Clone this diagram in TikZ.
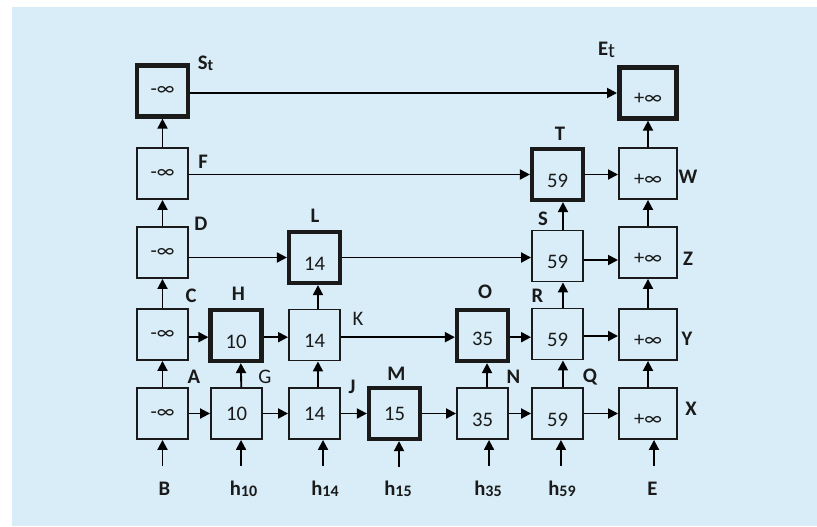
\documentclass[tikz,border=0pt]{standalone}
\usepackage{fontspec}
\setmainfont{Carlito}
\usetikzlibrary{arrows.meta}
\definecolor{bgblue}{HTML}{D8EDF8}
\definecolor{ink}{HTML}{1A1A1A}
\newcommand\boxfont{\fontsize{15.5}{18}\selectfont}
\newcommand\subfont{\fontsize{12}{14}\selectfont}
\newcommand\lowsub[1]{\raisebox{-1.2pt}{\subfont #1}}

\begin{document}
\begin{tikzpicture}[x=0.75pt,y=-0.75pt,
  box/.style={draw=ink, line width=1.4pt, minimum width=38.25pt,
    minimum height=38.25pt, inner sep=0pt, font=\boxfont, text=ink},
  wide/.style={minimum width=43.6pt},
  heavy/.style={line width=3.4pt, minimum width=38pt, minimum height=38pt},
  heavywide/.style={line width=3.4pt, minimum width=43.1pt, minimum height=38pt},
  low/.style={label={[font=\boxfont, text=ink, yshift=-4.5pt]center:#1}},
  tag/.style={font=\boxfont\bfseries, anchor=base, inner sep=0pt, text=ink},
  arr/.style={draw=black, line width=1.4pt, -{Triangle[length=7.5pt,width=7.5pt]}},
]
\useasboundingbox (0,0) rectangle (817,526);
\fill[bgblue] (12,7) rectangle (817,526);

% ---- boxes ----
\node[box,heavy] (St) at (162.5,91) {-∞};
\node[box,heavywide] (Et) at (648,93) [low=+∞] {};

\node[box] (F) at (162.5,173.5) {-∞};
\node[box,heavy] (T) at (557.5,174.5) [low=59] {};
\node[box,wide] (W) at (648,173.5) [low=+∞] {};

\node[box] (D) at (162.5,252.5) {-∞};
\node[box,heavy] (L) at (314.5,257.5) [low=14] {};
\node[box] (S) at (557.5,256) [low=59] {};
\node[box,wide] (Z) at (648,252.5) [low=+∞] {};

\node[box] (C) at (162.5,334.5) {-∞};
\node[box,heavy] (H) at (236,335.5) [low=10] {};
\node[box] (K) at (314.5,335) [low=14] {};
\node[box,heavy] (O) at (482.5,335.5) [label={[font=\boxfont,text=ink,yshift=-2.5pt]center:35}] {};
\node[box] (R) at (557.5,334) [low=59] {};
\node[box,wide] (Y) at (648,334.5) [low=+∞] {};

\node[box] (A) at (162.5,413.5) {-∞};
\node[box] (G) at (236.5,413.5) {10};
\node[box] (J) at (314.5,413.5) {14};
\node[box,heavy] (M) at (394.5,413.5) {15};
\node[box] (N) at (482.5,413.5) [low=35] {};
\node[box] (Q) at (557.5,413.5) [low=59] {};
\node[box,wide] (X) at (648,413.5) [low=+∞] {};

% ---- box names ----
\node[tag] (lSt) at (205.5,69) {S\lowsub{t}};
\node[tag] (lEt) at (606.5,55) {E\raisebox{-2.2pt}{\mdseries t}};
\node[tag] (lF) at (203,168) {F};
\node[tag] (lT) at (560,140) {T};
\node[tag] (lW) at (688,183) {W};
\node[tag] (lD) at (201,230) {D};
\node[tag] (lL) at (315,222) {L};
\node[tag] (lS) at (543,225) {S};
\node[tag] (lZ) at (688,265) {Z};
\node[tag] (lC) at (191,302) {C};
\node[tag] (lH) at (238.5,300) {H};
\node[tag,font=\boxfont] (lK) at (358,325) {K};
\node[tag] (lO) at (485,298) {O};
\node[tag] (lR) at (537.5,302) {R};
\node[tag] (lY) at (687,345) {Y};
\node[tag] (lA) at (194,383) {A};
\node[tag,font=\boxfont] (lG) at (265,383) {G};
\node[tag] (lJ) at (352,393) {J};
\node[tag] (lM) at (396.5,380) {M};
\node[tag] (lN) at (513.5,383) {N};
\node[tag] (lQ) at (590,382) {Q};
\node[tag] (lX) at (691,415) {X};

% ---- inputs ----
\node[tag] (iB) at (164.5,495) {B};
\node[tag] (i10) at (243.5,495) {h\lowsub{10}};
\node[tag] (i14) at (325,495) {h\lowsub{14}};
\node[tag] (i15) at (398,495) {h\lowsub{15}};
\node[tag] (i35) at (488,495) {h\lowsub{35}};
\node[tag] (i59) at (562,495) {h\lowsub{59}};
\node[tag] (iE) at (652.5,495) {E};

\draw[arr] ([yshift=-19.5pt]A.south) -- (A.south);
\draw[arr] ([xshift=3.4pt,yshift=-19.5pt]G.south) -- ([xshift=3.4pt]G.south);
\draw[arr] ([xshift=6.4pt,yshift=-19.5pt]J.south) -- ([xshift=6.4pt]J.south);
\draw[arr] ([xshift=3.4pt,yshift=-19.5pt]M.south) -- ([xshift=3.4pt]M.south);
\draw[arr] ([xshift=4.9pt,yshift=-19.5pt]N.south) -- ([xshift=4.9pt]N.south);
\draw[arr] ([xshift=2.6pt,yshift=-19.5pt]Q.south) -- ([xshift=2.6pt]Q.south);
\draw[arr] ([xshift=4.5pt,yshift=-19.5pt]X.south) -- ([xshift=4.5pt]X.south);

% ---- vertical links ----
\draw[arr] (A) -- (C);
\draw[arr] (C) -- (D);
\draw[arr] (D) -- (F);
\draw[arr] (F) -- (St);
\draw[arr] ([xshift=3.6pt]G.north) -- ([xshift=3.6pt]H.south);
\draw[arr] ([xshift=2.6pt]J.north) -- ([xshift=2.6pt]K.south);
\draw[arr] ([xshift=2.6pt]K.north) -- ([xshift=2.6pt]L.south);
\draw[arr] ([xshift=3.4pt]N.north) -- ([xshift=3.4pt]O.south);
\draw[arr] ([xshift=4.1pt]Q.north) -- ([xshift=4.1pt]R.south);
\draw[arr] ([xshift=4.1pt]R.north) -- ([xshift=4.1pt]S.south);
\draw[arr] ([xshift=4.1pt]S.north) -- ([xshift=4.1pt]T.south);
\draw[arr] (X) -- (Y);
\draw[arr] (Y) -- (Z);
\draw[arr] (Z) -- (W);
\draw[arr] (W) -- (Et);

% ---- horizontal links ----
\draw[arr] (St.east |- Et.west) -- (Et.west);
\draw[arr] (F.east |- T.west) -- (T.west);
\draw[arr] (T.east) -- (T.east -| W.west);
\draw[arr] (D.east |- L.west) -- (L.west);
\draw[arr] (L.east) -- (L.east -| S.west);
\draw[arr] ([yshift=-3pt]S.east) -- ([yshift=-3pt]S.east -| Z.west);
\draw[arr] ([yshift=-2pt]C.east) -- ([yshift=-2pt]C.east -| H.west);
\draw[arr] ([yshift=-2pt]H.east |- C.east) -- ([yshift=-2pt]K.west |- C.east);
\draw[arr] ([yshift=-2pt]K.east |- C.east) -- ([yshift=-2pt]O.west |- C.east);
\draw[arr] ([yshift=-2pt]O.east |- C.east) -- ([yshift=-2pt]R.west |- C.east);
\draw[arr] ([yshift=-1.5pt]R.east) -- ([yshift=-1.5pt]R.east -| Y.west);
\draw[arr] (A) -- (G);
\draw[arr] (G) -- (J);
\draw[arr] (J) -- (M);
\draw[arr] (M) -- (N);
\draw[arr] (N) -- (Q);
\draw[arr] (Q) -- (X);
\end{tikzpicture}
\end{document}
